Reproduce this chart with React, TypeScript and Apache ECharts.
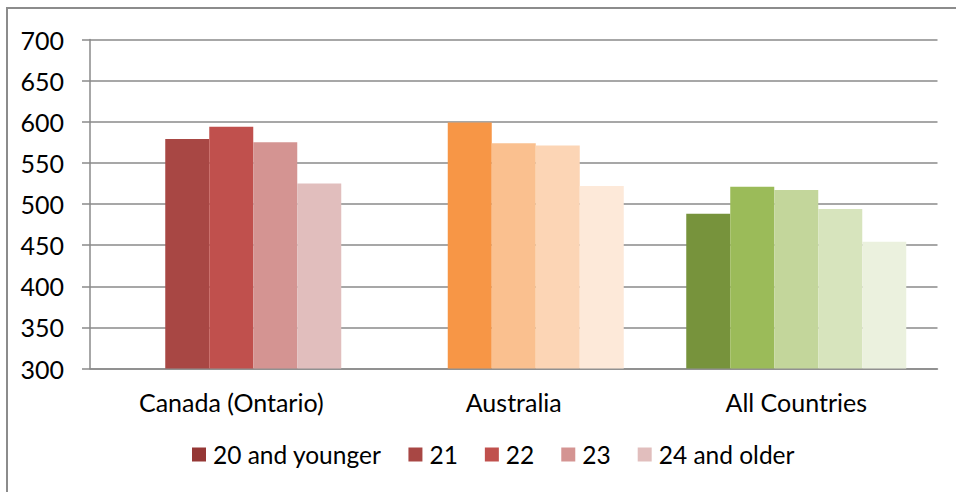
import React, { useEffect, useRef } from "react";
import * as echarts from "echarts";

const categories = ["Canada (Ontario)", "Australia", "All Countries"];
const seriesNames = ["20 and younger", "21", "22", "23", "24 and older"];
const age20Younger: (number | null)[] = [null, null, 488];
const age21 = [579, 599, 521];
const age22 = [594, 574, 517];
const age23 = [575, 571, 494];
const age24Older = [525, 522, 454];
const seriesValues = [age20Younger, age21, age22, age23, age24Older];

const redShades = ["#953735", "#A84744", "#C0504D", "#D49492", "#E1BEBD"];
const orangeShades = ["#E46C0A", "#F79646", "#FAC08F", "#FCD5B5", "#FDE9D9"];
const greenShades = ["#77933C", "#9BBB59", "#C3D69B", "#D7E4BD", "#EBF1DE"];
const categoryPalettes = [redShades, orangeShades, greenShades];

const yTicks = { min: 300, max: 700, interval: 50 };

const FONT = "Lato";
const GRAY = "#8a8a8a";

export default function App() {
  const ref = useRef<HTMLDivElement>(null);
  useEffect(() => {
    if (!ref.current) return;
    const chart = echarts.init(ref.current, null, { renderer: "svg" });
    chart.setOption({
      animation: false,
      backgroundColor: "#ffffff",
      textStyle: { fontFamily: FONT },
      graphic: [
        {
          type: "rect",
          shape: { x: 7, y: 8, width: 1100, height: 600 },
          style: { fill: "none", stroke: "#8c8c8c", lineWidth: 2 },
          silent: true,
        },
      ],
      grid: { left: 90, right: 18.5, top: 39.5, bottom: 123.5 },
      legend: {
        data: seriesNames,
        bottom: 20,
        left: 187,
        itemWidth: 14,
        itemHeight: 14,
        itemGap: 27,
        icon: "rect",
        textStyle: { fontFamily: FONT, fontSize: 24.5, color: "#000", padding: [0, 0, 0, 2] },
      },
      xAxis: {
        type: "category",
        data: categories,
        axisLine: { lineStyle: { color: GRAY, width: 1.5 } },
        axisTick: { length: 7, lineStyle: { color: GRAY, width: 1.5 } },
        axisLabel: { fontFamily: FONT, fontSize: 25, color: "#000", margin: 21 },
      },
      yAxis: {
        type: "value",
        min: yTicks.min,
        max: yTicks.max,
        interval: yTicks.interval,
        axisLine: { show: true, lineStyle: { color: GRAY, width: 1.5 } },
        axisTick: { show: true, length: 8, lineStyle: { color: GRAY, width: 1.5 } },
        axisLabel: { fontFamily: FONT, fontSize: 25, color: "#000", margin: 26 },
        splitLine: { lineStyle: { color: GRAY, width: 1.5 } },
      },
      series: seriesNames.map((name, si) => ({
        name,
        type: "bar",
        barWidth: 44,
        barGap: "0%",
        itemStyle: { color: redShades[si] },
        data: seriesValues[si].map((v, ci) => ({
          value: v,
          itemStyle: { color: categoryPalettes[ci][si] },
        })),
      })),
    });
    return () => chart.dispose();
  }, []);
  return (
    <div
      ref={ref}
      style={{ position: "fixed", left: 0, top: 0, width: 956, height: 492 }}
    />
  );
}
